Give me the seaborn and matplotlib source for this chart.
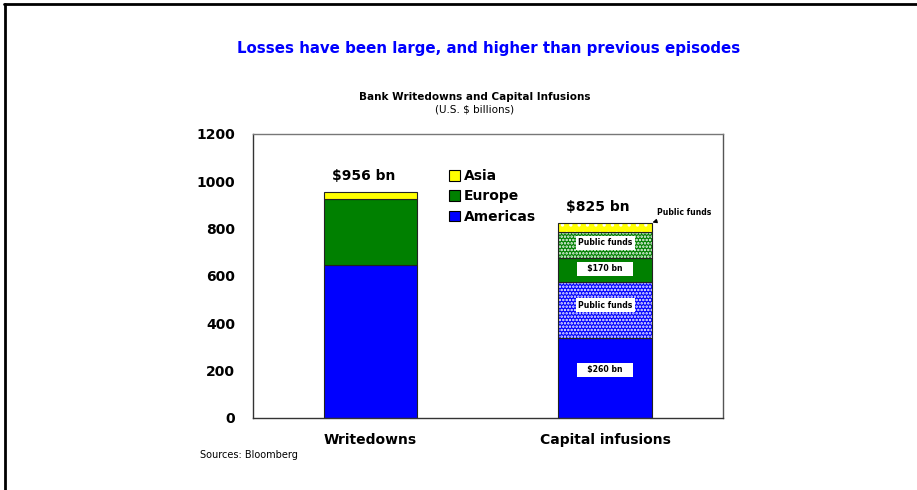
#!/usr/bin/env python3

import pandas as pd
import seaborn as sns
import matplotlib.pyplot as plt
from matplotlib.patches import Patch
from matplotlib.lines import Line2D

##########
# Data #
##########

categories = ["Writedowns", "Capital infusions"]

# Writedowns by region (U.S. $ billions)
writedowns_americas = 646
writedowns_europe = 278
writedowns_asia = 32

# Capital infusions, split private / public funds
infusions_americas_private = 337
infusions_americas_public = 239
infusions_europe_private = 100
infusions_europe_public = 110
infusions_asia = 39

totals = [956, 825]
total_labels = ["$956 bn", "$825 bn"]

# stacked segments, bottom to top
segments = pd.DataFrame([
    ["Writedowns", "Americas", writedowns_americas, ""],
    ["Writedowns", "Europe", writedowns_europe, ""],
    ["Writedowns", "Asia", writedowns_asia, ""],
    ["Capital infusions", "Americas", infusions_americas_private, ""],
    ["Capital infusions", "Americas", infusions_americas_public, "public"],
    ["Capital infusions", "Europe", infusions_europe_private, ""],
    ["Capital infusions", "Europe", infusions_europe_public, "public"],
    ["Capital infusions", "Asia", infusions_asia, "public"],
], columns=["Bar", "Region", "Value", "Kind"])
segments["Bottom"] = segments.groupby("Bar")["Value"].cumsum() - segments["Value"]

colors = {"Americas": "#0000ff", "Europe": "#008000", "Asia": "#ffff00"}

##########
# Plot #
##########

sns.set_style("white")
plt.rcParams["font.family"] = ["DejaVu Sans"]
plt.rcParams["text.color"] = "black"
plt.rcParams["xtick.color"] = "black"
plt.rcParams["ytick.color"] = "black"
plt.rcParams["hatch.linewidth"] = 1.2

fig = plt.figure(figsize=(9.17, 4.9), dpi=100)
ax = fig.add_axes([0.276, 0.147, 0.512, 0.580])

for _, row in segments.iterrows():
    if row["Kind"] == "public":
        sns.barplot(x=[row["Bar"]], y=[row["Value"]], order=categories, bottom=row["Bottom"],
                    color=colors[row["Region"]], saturation=1, width=0.4, errorbar=None,
                    hatch="....." if row["Region"] != "Asia" else "..",
                    edgecolor="white", linewidth=0, ax=ax)
    sns.barplot(x=[row["Bar"]], y=[row["Value"]], order=categories, bottom=row["Bottom"],
                color=colors[row["Region"]] if row["Kind"] != "public" else "none",
                fill=row["Kind"] != "public", saturation=1, width=0.4, errorbar=None,
                edgecolor="#222222", linewidth=0.8, ax=ax)

# labels inside the capital infusions bar
inner_labels = [("   $260 bn   ", 203), ("Public funds", 477),
                ("   $170 bn   ", 630), ("Public funds", 740)]
for text, yv in inner_labels:
    ax.text(1, yv, text, ha="center", va="center", fontsize=5.6, fontweight="bold",
            bbox=dict(boxstyle="square,pad=0.3", facecolor="white", edgecolor="none"))

ax.annotate("Public funds", xy=(1.19, 822), xytext=(1.22, 868),
            fontsize=5.6, fontweight="bold", ha="left", va="center",
            arrowprops=dict(arrowstyle="-|>", color="black", lw=0.8, mutation_scale=6))

for i, lab in enumerate(total_labels):
    ax.text(i - 0.03, totals[i] + 35, lab, ha="center", va="bottom",
            fontsize=10, fontweight="bold")

# legend
handles = [Patch(facecolor=colors[r], edgecolor="black", linewidth=0.8, label=r)
           for r in ["Asia", "Europe", "Americas"]]
leg = ax.legend(handles=handles, loc="upper left", bbox_to_anchor=(0.405, 0.895),
                frameon=False, handlelength=0.8, handleheight=0.8, handletextpad=0.3,
                labelspacing=0.45, borderaxespad=0)
for t in leg.get_texts():
    t.set_fontsize(10)
    t.set_fontweight("bold")

# axes styling
ax.set_xlim(-0.5, 1.5)
ax.set_ylim(0, 1200)
ax.set_yticks(range(0, 1201, 200))
ax.set_xticks([-0.5, 0.5, 1.5], minor=False)
ax.set_xticklabels([])
ax.set_xticks([0, 1], minor=True)
ax.set_xticklabels(categories, minor=True, fontsize=10, fontweight="bold")
ax.tick_params(axis="x", which="minor", length=0, pad=11)
ax.tick_params(axis="x", which="major", length=5, direction="out", color="#333333")
ax.tick_params(axis="y", length=5, direction="out", color="#333333", pad=8)
for t in ax.get_yticklabels():
    t.set_fontsize(10)
    t.set_fontweight("bold")
ax.set_xlabel("")
ax.set_ylabel("")
for s in ax.spines.values():
    s.set_color("#333333")
    s.set_linewidth(1.0)
ax.spines["top"].set_color("#777777")
ax.spines["right"].set_color("#555555")

# titles
fig.text(0.533, 0.902, "Losses have been large, and higher than previous episodes",
         ha="center", va="center", fontsize=10.8, fontweight="bold", color="#0000ff")
fig.text(0.518, 0.802, "Bank Writedowns and Capital Infusions",
         ha="center", va="center", fontsize=7.5, fontweight="bold")
fig.text(0.518, 0.776, "(U.S. $ billions)", ha="center", va="center", fontsize=7.5)
fig.text(0.218, 0.072, "Sources: Bloomberg", ha="left", va="center", fontsize=7)

# slide frame
fig.add_artist(Line2D([0.004, 1.0], [0.991, 0.991], color="black", lw=2, transform=fig.transFigure))
fig.add_artist(Line2D([0.005, 0.005], [0.0, 0.991], color="black", lw=2, transform=fig.transFigure))

plt.savefig("out.png", dpi=100)
